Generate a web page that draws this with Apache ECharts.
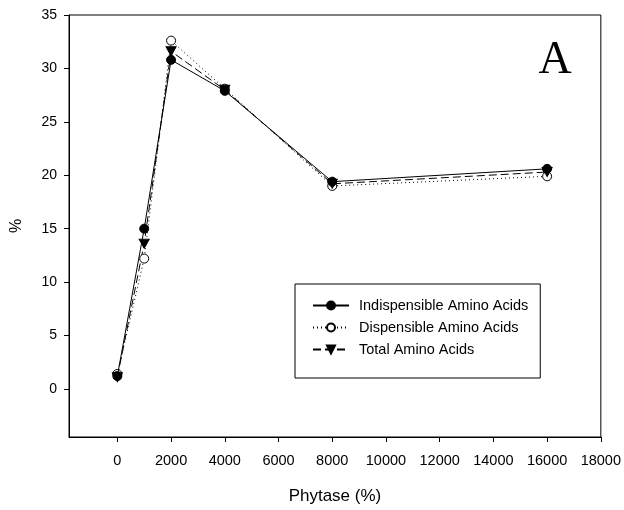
<!DOCTYPE html>
<html>
<head>
<meta charset="utf-8">
<script src="https://cdn.jsdelivr.net/npm/echarts@6/dist/echarts.min.js"></script>
<style>html,body{margin:0;padding:0;background:#fff;}#c{width:624px;height:510px;}</style>
</head>
<body>
<div id="c"></div>
<script>
var phytase = [0, 1000, 2000, 4000, 8000, 16000];
var indispensable = [1.2, 15.0, 30.8, 27.9, 19.4, 20.6];
var dispensable = [1.4, 12.2, 32.6, 28.1, 19.0, 19.9];
var totalAA = [1.1, 13.6, 31.6, 28.0, 19.2, 20.3];
var xTicks = [0, 2000, 4000, 6000, 8000, 10000, 12000, 14000, 16000, 18000];
var yTicks = [0, 5, 10, 15, 20, 25, 30, 35];

function pairs(vals) { return phytase.map(function (x, i) { return [x, vals[i]]; }); }

var chart = echarts.init(document.getElementById('c'));
var font = 'Liberation Sans, Arial, sans-serif';
var downTri = 'path://M0,0 L10,0 L5,9 Z';

chart.setOption({
  animation: false,
  backgroundColor: '#fff',
  grid: { left: 69, top: 15, right: 23, bottom: 73, show: true, borderColor: '#000', borderWidth: 1, backgroundColor: 'transparent' },
  xAxis: {
    type: 'value', min: -1800, max: 18000,
    name: 'Phytase (%)', nameLocation: 'middle', nameGap: 51,
    nameTextStyle: { fontFamily: font, fontSize: 17, color: '#000' },
    axisLine: { onZero: false, lineStyle: { color: '#000', width: 1 } },
    axisTick: { customValues: xTicks, length: 5, lineStyle: { color: '#000' } },
    axisLabel: { customValues: xTicks, margin: 16, fontFamily: font, fontSize: 14.5, color: '#000',
      formatter: function (v) { return String(v); } },
    splitLine: { show: false }
  },
  yAxis: {
    type: 'value', min: -4.5, max: 35,
    name: '%', nameLocation: 'middle', nameGap: 44, nameRotate: 90,
    nameTextStyle: { fontFamily: font, fontSize: 16, color: '#000' },
    axisLine: { onZero: false, lineStyle: { color: '#000', width: 1 } },
    axisTick: { customValues: yTicks, length: 5, lineStyle: { color: '#000' } },
    axisLabel: { customValues: yTicks, margin: 12, fontFamily: font, fontSize: 14, color: '#000',
      formatter: function (v) { return String(v); } },
    splitLine: { show: false }
  },
  legend: {
    orient: 'vertical', left: 295, top: 284,
    padding: [14, 12, 21, 17], itemGap: 7, itemWidth: 36, itemHeight: 10,
    borderColor: '#000', borderWidth: 1, backgroundColor: '#fff',
    textStyle: { fontFamily: font, fontSize: 14.5, color: '#000', padding: [0, 0, 0, 5] },
    data: ['Indispensible Amino Acids', 'Dispensible Amino Acids', 'Total Amino Acids']
  },
  graphic: [{
    type: 'text', x: 555, y: 61,
    style: { text: 'A', fontFamily: 'Liberation Serif, Times New Roman, serif', fontSize: 46, fill: '#000', textAlign: 'center', textVerticalAlign: 'middle' }
  }],
  series: [
    {
      name: 'Indispensible Amino Acids', type: 'line', data: pairs(indispensable),
      symbol: 'circle', symbolSize: 9,
      lineStyle: { color: '#000', width: 1, type: 'solid' },
      itemStyle: { color: '#000', borderColor: '#000', borderWidth: 1 }, z: 3
    },
    {
      name: 'Dispensible Amino Acids', type: 'line', data: pairs(dispensable),
      symbol: 'circle', symbolSize: 9,
      lineStyle: { color: '#000', width: 1, type: [1, 3] },
      itemStyle: { color: '#fff', borderColor: '#000', borderWidth: 1 }, z: 2
    },
    {
      name: 'Total Amino Acids', type: 'line', data: pairs(totalAA),
      symbol: downTri, symbolSize: [10, 9],
      lineStyle: { color: '#000', width: 1, type: [8, 4] },
      itemStyle: { color: '#000', borderColor: '#000', borderWidth: 1 }, z: 2
    }
  ]
});
</script>
</body>
</html>
